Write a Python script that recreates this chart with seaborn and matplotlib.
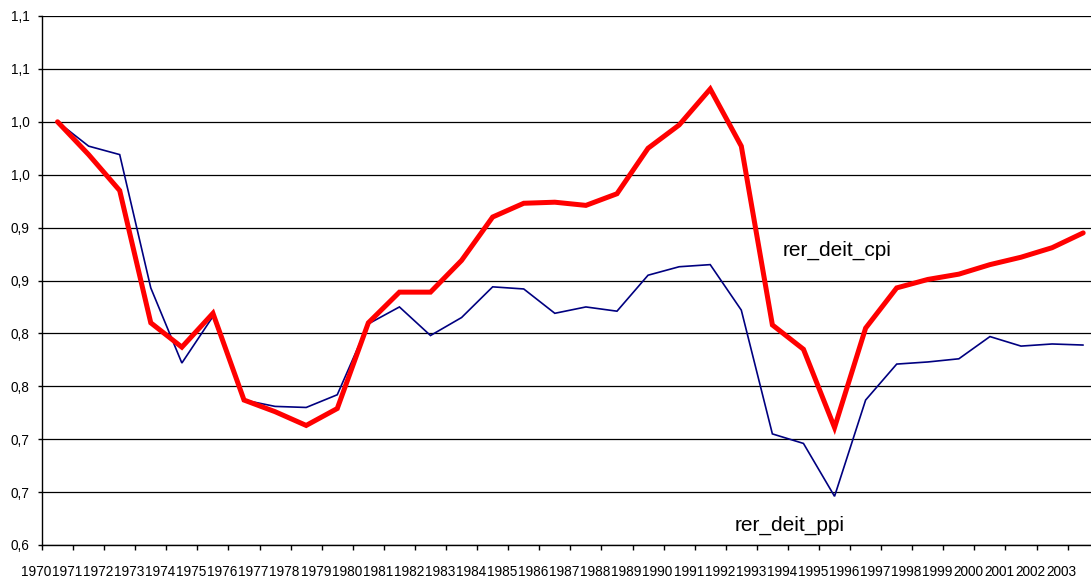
import matplotlib
matplotlib.use("Agg")
import matplotlib.pyplot as plt
import matplotlib.transforms as mtransforms
import seaborn as sns
import pandas as pd

# ---- data ----
years = list(range(1970, 2004))
rer_deit_cpi = [1.000, 0.969, 0.935, 0.810, 0.787, 0.819, 0.737, 0.726, 0.713, 0.729,
                0.810, 0.839, 0.839, 0.869, 0.910, 0.923, 0.924, 0.921, 0.932, 0.975,
                0.997, 1.031, 0.977, 0.808, 0.785, 0.711, 0.805, 0.843, 0.851, 0.856,
                0.865, 0.872, 0.881, 0.895]
rer_deit_ppi = [1.000, 0.977, 0.969, 0.843, 0.772, 0.816, 0.737, 0.731, 0.730, 0.742,
                0.809, 0.825, 0.798, 0.815, 0.844, 0.842, 0.819, 0.825, 0.821, 0.855,
                0.863, 0.865, 0.822, 0.705, 0.696, 0.646, 0.737, 0.771, 0.773, 0.776,
                0.797, 0.788, 0.790, 0.789]
ytick_values = [0.60, 0.65, 0.70, 0.75, 0.80, 0.85, 0.90, 0.95, 1.00, 1.05, 1.10]
ytick_labels = ["0,6", "0,7", "0,7", "0,8", "0,8", "0,9", "0,9", "1,0", "1,0", "1,1", "1,1"]
xtick_labels = [str(y) for y in years]

sns.set_theme(style="white")
plt.rcParams["font.family"] = ["Liberation Sans", "DejaVu Sans"]

W, H = 1091, 578
fig = plt.figure(figsize=(W / 100, H / 100), dpi=100)
ax = fig.add_axes([42 / W, 33 / H, (W - 42) / W, 529 / H])

pos = [i + 0.5 for i in range(len(years))]
df = pd.DataFrame({"pos": pos, "cpi": rer_deit_cpi, "ppi": rer_deit_ppi})

sns.lineplot(data=df, x="pos", y="ppi", ax=ax, color="#000080", linewidth=1.2,
             zorder=3, legend=False)
sns.lineplot(data=df, x="pos", y="cpi", ax=ax, color="#FF0000", linewidth=3.6,
             zorder=4, legend=False)
for ln in ax.lines:
    ln.set_solid_joinstyle("miter")

ax.set_xlim(0, (W - 42) / 31.08)
ax.set_ylim(0.60, 1.10)

ax.set_yticks(ytick_values)
ax.set_yticklabels(ytick_labels)
ax.set_xticks(range(len(years)))
ax.set_xticklabels(xtick_labels)

ax.yaxis.grid(True, color="black", linewidth=0.9)
ax.xaxis.grid(False)
ax.set_axisbelow(True)

for s in ["top", "right"]:
    ax.spines[s].set_visible(False)
for s in ["left", "bottom"]:
    ax.spines[s].set_color("black")
    ax.spines[s].set_linewidth(1.0)

ax.tick_params(axis="x", direction="out", length=3.6, width=1.0, color="black",
               labelsize=9.8, pad=11, labelcolor="black", bottom=True)
ax.tick_params(axis="y", direction="out", length=3.0, width=1.0, color="black",
               labelsize=9.8, pad=6, labelcolor="black", left=True)

offset = mtransforms.ScaledTranslation(-0.06, 0, fig.dpi_scale_trans)
for lbl in ax.get_xticklabels():
    lbl.set_transform(lbl.get_transform() + offset)

ax.set_xlabel("")
ax.set_ylabel("")

ax.text(25.58, 0.8788, "rer_deit_cpi", fontsize=15, ha="center", va="center",
        color="black", zorder=5)
ax.text(24.07, 0.619, "rer_deit_ppi", fontsize=15, ha="center", va="center",
        color="black", zorder=5)

fig.savefig("out.png", dpi=100)
